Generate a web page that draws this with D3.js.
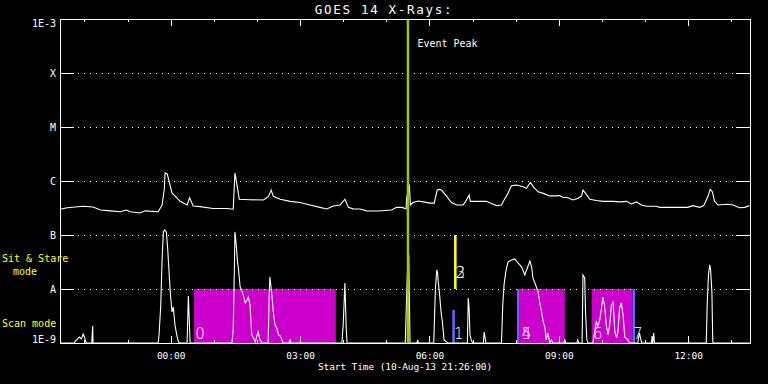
<!DOCTYPE html>
<html>
<head>
<meta charset="utf-8">
<script src="https://cdn.jsdelivr.net/npm/d3@7"></script>
<style>
  body { margin: 0; background: #000; }
  svg { display: block; background: #000; }
</style>
</head>
<body>
<script>
// times are hours relative to 00:00 UT on 11-Aug-2013, flux in W/m^2

// GOES long channel (1-8 A)
const longChannel = [
  [-2.56, 3.0e-7], [-2.40, 3.2e-7], [-2.03, 3.4e-7], [-1.80, 3.3e-7], [-1.63, 2.9e-7],
  [-1.40, 2.8e-7], [-1.17, 2.7e-7], [-1.03, 2.9e-7], [-0.94, 2.7e-7], [-0.71, 2.55e-7],
  [-0.59, 2.8e-7], [-0.29, 2.7e-7], [-0.20, 3.6e-7], [-0.15, 6.8e-7], [-0.13, 1.41e-6],
  [-0.08, 1.35e-6], [0.03, 6.0e-7], [0.22, 4.2e-7], [0.38, 3.6e-7], [0.44, 4.9e-7],
  [0.52, 3.44e-7], [0.68, 3.35e-7], [0.98, 3.1e-7], [1.30, 3.1e-7], [1.45, 3.0e-7],
  [1.49, 1.4e-6], [1.53, 9.2e-7], [1.59, 4.6e-7], [1.84, 4.5e-7], [2.15, 4.45e-7],
  [2.27, 5.2e-7], [2.33, 6.8e-7], [2.38, 5.2e-7], [2.54, 4.6e-7], [2.77, 4.2e-7],
  [3.00, 4.0e-7], [3.23, 3.6e-7], [3.46, 3.25e-7], [3.62, 3.03e-7], [3.77, 3.44e-7],
  [3.93, 3.6e-7], [4.04, 4.6e-7], [4.12, 3.25e-7], [4.23, 3.05e-7], [4.39, 3.03e-7],
  [4.54, 2.8e-7], [4.81, 2.78e-7], [5.12, 2.9e-7], [5.24, 3.25e-7], [5.36, 3.25e-7],
  [5.46, 3.05e-7], [5.47, 4.8e-7], [5.53, 8.7e-7], [5.56, 3.6e-7], [5.62, 4.0e-7],
  [5.74, 4.27e-7], [5.86, 4.1e-7], [6.01, 3.9e-7], [6.11, 3.9e-7], [6.18, 6.8e-7],
  [6.23, 7.0e-7], [6.28, 6.8e-7], [6.40, 5.2e-7], [6.51, 4.0e-7], [6.63, 3.6e-7],
  [6.78, 3.6e-7], [6.84, 4.2e-7], [6.92, 5.5e-7], [6.95, 4.2e-7], [7.32, 4.2e-7],
  [7.48, 3.7e-7], [7.56, 3.5e-7], [7.67, 3.6e-7], [7.73, 4.45e-7], [7.82, 5.9e-7],
  [7.90, 8.2e-7], [8.02, 8.4e-7], [8.17, 7.8e-7], [8.25, 7.3e-7], [8.34, 9.4e-7],
  [8.42, 7.6e-7], [8.52, 6.3e-7], [8.64, 5.9e-7], [8.79, 5.3e-7], [8.95, 5.3e-7],
  [9.02, 5.4e-7], [9.09, 5.0e-7], [9.21, 4.9e-7], [9.33, 4.45e-7], [9.45, 4.8e-7],
  [9.53, 5.35e-7], [9.56, 6.8e-7], [9.62, 5.9e-7], [9.72, 4.6e-7], [9.87, 4.35e-7],
  [10.03, 4.2e-7], [10.26, 4.2e-7], [10.41, 4.1e-7], [10.57, 4.2e-7], [10.68, 3.75e-7],
  [10.80, 4.1e-7], [10.91, 3.6e-7], [11.03, 3.4e-7], [11.26, 3.4e-7], [11.34, 3.25e-7],
  [11.99, 3.25e-7], [12.11, 3.5e-7], [12.27, 3.25e-7], [12.36, 3.5e-7], [12.46, 5.2e-7],
  [12.51, 7.0e-7], [12.56, 6.3e-7], [12.61, 4.2e-7], [12.69, 3.6e-7], [12.92, 3.7e-7],
  [13.04, 3.6e-7], [13.19, 3.2e-7], [13.31, 3.25e-7], [13.42, 3.5e-7]
];

// GOES short channel (0.5-4 A), sits on the 1E-9 floor most of the time
const shortChannel = [
  [-2.56, 1e-9], [-2.24, 1e-9], [-2.21, 1.08e-9], [-2.16, 1.19e-9], [-2.12, 1.29e-9],
  [-2.07, 1.19e-9], [-2.03, 1.47e-9], [-2.00, 1.29e-9], [-1.98, 1.14e-9], [-1.96, 1e-9],
  [-1.83, 1e-9], [-1.81, 2.07e-9], [-1.80, 1e-9],
  [-0.29, 1e-9], [-0.27, 1.41e-9], [-0.23, 5.1e-9], [-0.20, 3.4e-8], [-0.17, 1.14e-7],
  [-0.14, 1.24e-7], [-0.10, 1.14e-7], [-0.07, 5.7e-8], [-0.05, 3.0e-8], [-0.01, 8.8e-9],
  [0.03, 3.75e-9], [0.06, 4.64e-9], [0.10, 2.15e-9], [0.14, 1.41e-9], [0.18, 1.04e-9],
  [0.22, 1e-9], [0.38, 1e-9], [0.41, 7.4e-9], [0.44, 1.74e-9], [0.45, 1e-9],
  [1.42, 1e-9], [1.45, 1.74e-9], [1.48, 3.4e-8], [1.49, 1.14e-7], [1.52, 6.5e-8],
  [1.55, 3.16e-8], [1.57, 2.45e-8], [1.61, 1.09e-8], [1.67, 8.4e-9], [1.73, 5.5e-9],
  [1.77, 6.25e-9], [1.80, 7.1e-9], [1.84, 5.06e-9], [1.88, 1.41e-9], [1.92, 1.24e-9],
  [1.96, 1.04e-9], [2.00, 1.35e-9], [2.03, 1.6e-9], [2.07, 1.14e-9], [2.12, 1e-9],
  [2.26, 1e-9], [2.28, 6.25e-9], [2.30, 1.67e-8], [2.34, 8.8e-9], [2.38, 3.75e-9],
  [2.42, 2.15e-9], [2.46, 1.9e-9], [2.50, 1.41e-9], [2.54, 1.35e-9], [2.58, 1.14e-9],
  [2.61, 1e-9], [2.74, 1e-9], [2.77, 1.14e-9], [2.79, 1e-9],
  [3.97, 1e-9], [4.00, 2.15e-9], [4.04, 1.29e-8], [4.07, 1.9e-9], [4.09, 1e-9],
  [5.44, 1e-9], [5.47, 7.1e-9], [5.50, 3.16e-8], [5.52, 4.3e-8], [5.55, 1e-9],
  [5.71, 1e-9], [5.73, 1.14e-9], [5.74, 1e-9],
  [6.10, 1e-9], [6.13, 6.25e-9], [6.14, 1.04e-8], [6.17, 2.25e-8], [6.19, 1.98e-8],
  [6.20, 1.47e-8], [6.23, 8.8e-9], [6.27, 3.75e-9], [6.30, 2.45e-9], [6.34, 1.14e-9],
  [6.40, 1.04e-9], [6.43, 1e-9],
  [6.88, 1e-9], [6.90, 6.8e-9], [6.92, 4.45e-9], [6.94, 1.41e-9], [6.97, 1.14e-9],
  [7.00, 1e-9], [7.25, 1e-9], [7.27, 1.6e-9], [7.31, 1e-9],
  [7.67, 1e-9], [7.70, 5.06e-9], [7.73, 1.19e-8], [7.77, 2.07e-8], [7.82, 3.16e-8],
  [7.89, 3.4e-8], [7.98, 3.6e-8], [8.06, 3.0e-8], [8.14, 2.55e-8], [8.21, 1.82e-8],
  [8.27, 2.45e-8], [8.33, 3.3e-8], [8.37, 2.55e-8], [8.40, 1.6e-8], [8.48, 1.09e-8],
  [8.52, 8.8e-9], [8.56, 5.5e-9], [8.60, 3.75e-9], [8.64, 2.45e-9], [8.68, 1.9e-9],
  [8.71, 1.14e-9], [8.75, 1.53e-9], [8.79, 1e-9], [8.83, 1.14e-9], [8.86, 1e-9],
  [9.12, 1e-9], [9.14, 1.14e-9], [9.16, 1e-9], [9.42, 1e-9], [9.44, 1.14e-9], [9.46, 1e-9],
  [9.54, 1e-9], [9.56, 1.82e-8], [9.60, 1.6e-8], [9.62, 3.75e-9], [9.65, 1.14e-9],
  [9.68, 1e-9],
  [9.79, 1e-9], [9.87, 2.45e-9], [9.91, 2.07e-9], [9.95, 2.67e-9], [9.99, 4.45e-9],
  [10.02, 7.1e-9], [10.06, 5.06e-9], [10.10, 2.15e-9], [10.14, 1.41e-9], [10.18, 2.15e-9],
  [10.22, 5.06e-9], [10.26, 5.7e-9], [10.30, 1.6e-9], [10.34, 1.24e-9], [10.37, 1.6e-9],
  [10.41, 4.45e-9], [10.45, 5.5e-9], [10.49, 3.3e-9], [10.53, 1.29e-9], [10.60, 1.14e-9],
  [10.64, 1e-9],
  [10.83, 1e-9], [10.87, 1.53e-9], [10.92, 1e-9], [11.15, 1e-9], [11.16, 1.35e-9],
  [11.18, 1e-9], [11.20, 1.53e-9], [11.22, 1e-9],
  [12.42, 1e-9], [12.44, 5.06e-9], [12.47, 1.82e-8], [12.50, 2.8e-8], [12.52, 2.25e-8],
  [12.55, 8.8e-9], [12.57, 1.04e-9], [12.59, 1e-9], [13.42, 1e-9]
];

// observation blocks
const scanBlocks = [[0.54, 3.83], [8.09, 9.14], [9.76, 10.71]];     // magenta, scan mode
const scanStarts = [[6.53, 6.59, 4.1e-9], [8.03, 8.09, 1e-8], [10.71, 10.77, 1e-8]]; // blue
const stareBlocks = [[6.57, 6.63]];                                 // yellow, sit & stare

const obsLabels = ['0', '1', '2', '3', '4', '5', '6', '7'];
const obsTimes = [0.57, 6.57, 6.61, 6.61, 8.14, 8.14, 9.79, 10.72];
const obsModes = ['scan', 'scan', 'stare', 'stare', 'scan', 'scan', 'scan', 'scan'];

const eventPeak = 5.49;

const yTicks = [1e-9, 1e-8, 1e-7, 1e-6, 1e-5, 1e-4, 1e-3];
const yTickLabels = ['1E-9', 'A', 'B', 'C', 'M', 'X', '1E-3'];

const midnight = Date.UTC(2013, 7, 11);
const startTime = new Date(Date.UTC(2013, 7, 10, 21, 26));
const endTime = new Date(Date.UTC(2013, 7, 11, 13, 26));
const toDate = (h) => new Date(midnight + h * 3600e3);

const W = 768, H = 384;
const plotLeft = 60, plotRight = 750, plotTop = 19, plotBottom = 343;
const MONO = '"DejaVu Sans Mono", monospace';

const svg = d3.select('body').append('svg')
  .attr('width', W)
  .attr('height', H)
  .attr('font-family', MONO)
  .attr('fill', '#fff');

const x = d3.scaleUtc().domain([startTime, endTime]).range([plotLeft, plotRight]);
const y = d3.scaleLog().domain([1e-9, 1e-3]).range([plotBottom, plotTop]).clamp(true);

// observation blocks first, so curves lie on top
svg.append('g').selectAll('rect')
  .data(scanBlocks)
  .join('rect')
  .attr('x', (d) => x(toDate(d[0])))
  .attr('width', (d) => x(toDate(d[1])) - x(toDate(d[0])))
  .attr('y', y(1e-8))
  .attr('height', y(1e-9) - y(1e-8))
  .attr('fill', '#cc00cc');

svg.append('g').selectAll('rect')
  .data(scanStarts)
  .join('rect')
  .attr('x', (d) => x(toDate(d[0])))
  .attr('width', (d) => x(toDate(d[1])) - x(toDate(d[0])))
  .attr('y', (d) => y(d[2]))
  .attr('height', (d) => y(1e-9) - y(d[2]))
  .attr('fill', '#6464ff');

svg.append('g').selectAll('rect')
  .data(stareBlocks)
  .join('rect')
  .attr('x', (d) => x(toDate(d[0])))
  .attr('width', (d) => x(toDate(d[1])) - x(toDate(d[0])))
  .attr('y', y(1e-7))
  .attr('height', y(1e-8) - y(1e-7))
  .attr('fill', '#ffff00');

// dotted GOES class lines
const inner = yTicks.slice(1, -1);
svg.append('g').selectAll('line')
  .data(inner)
  .join('line')
  .attr('x1', plotLeft + 18)
  .attr('x2', plotRight - 14)
  .attr('y1', (d) => Math.round(y(d)) + 0.5)
  .attr('y2', (d) => Math.round(y(d)) + 0.5)
  .attr('stroke', '#fff')
  .attr('stroke-dasharray', '1,5')
  .attr('shape-rendering', 'crispEdges');

const line = d3.line()
  .x((d) => x(toDate(d[0])))
  .y((d) => y(d[1]));

[longChannel, shortChannel].forEach((series) => {
  svg.append('path')
    .datum(series)
    .attr('d', line)
    .attr('fill', 'none')
    .attr('stroke', '#fff')
    .attr('stroke-width', 1.1);
});

// event peak marker
svg.append('line')
  .attr('x1', x(toDate(eventPeak)) + 0.5)
  .attr('x2', x(toDate(eventPeak)) + 0.5)
  .attr('y1', plotTop)
  .attr('y2', plotBottom)
  .attr('stroke', '#99cc00')
  .attr('stroke-width', 2.5);

svg.append('text')
  .attr('x', x(toDate(eventPeak)) + 10)
  .attr('y', 47)
  .attr('font-size', 10)
  .text('Event Peak');

// observation numbers
svg.append('g')
  .attr('font-family', '"DejaVu Sans", sans-serif')
  .attr('font-weight', 200)
  .attr('font-size', 15)
  .selectAll('text')
  .data(obsLabels)
  .join('text')
  .attr('x', (d, i) => x(toDate(obsTimes[i])))
  .attr('y', (d, i) => obsModes[i] === 'scan' ? y(1e-9) - 4 : y(1e-8) - 11)
  .text((d) => d);

// frame
svg.append('rect')
  .attr('x', plotLeft + 0.5)
  .attr('y', plotTop + 0.5)
  .attr('width', plotRight - plotLeft)
  .attr('height', plotBottom - plotTop)
  .attr('fill', 'none')
  .attr('stroke', '#fff')
  .attr('shape-rendering', 'crispEdges');

const styleAxis = (g) => {
  g.select('.domain').remove();
  g.selectAll('line').attr('stroke', '#fff').attr('shape-rendering', 'crispEdges');
  g.attr('font-family', MONO);
  g.selectAll('text').attr('fill', '#fff');
};

// time axes: hourly minor ticks, 3-hourly labelled ticks
svg.append('g')
  .attr('transform', `translate(0,${plotBottom})`)
  .call(d3.axisBottom(x).ticks(d3.utcHour.every(1)).tickSize(-3).tickFormat(''))
  .call(styleAxis);

svg.append('g')
  .attr('transform', `translate(0,${plotBottom})`)
  .call(d3.axisBottom(x).ticks(d3.utcHour.every(3)).tickSize(-7).tickPadding(9)
    .tickFormat(d3.utcFormat('%H:%M')))
  .call(styleAxis)
  .call((g) => g.attr('font-size', 9.5));

svg.append('g')
  .attr('transform', `translate(0,${plotTop})`)
  .call(d3.axisTop(x).ticks(d3.utcHour.every(1)).tickSize(-3).tickFormat(''))
  .call(styleAxis);

svg.append('g')
  .attr('transform', `translate(0,${plotTop})`)
  .call(d3.axisTop(x).ticks(d3.utcHour.every(3)).tickSize(-7).tickFormat(''))
  .call(styleAxis);

// flux axes
svg.append('g')
  .attr('transform', `translate(${plotLeft},0)`)
  .call(d3.axisLeft(y).tickValues(yTicks).tickSize(-14).tickPadding(4)
    .tickFormat((d, i) => yTickLabels[i]))
  .call(styleAxis)
  .call((g) => {
    g.attr('font-size', 10);
    g.selectAll('.tick').filter((d) => d === 1e-3).select('text').attr('dy', '0.75em');
    g.selectAll('.tick').filter((d) => d === 1e-9).select('text').attr('dy', '-0.05em');
  });

svg.append('g')
  .attr('transform', `translate(${plotRight},0)`)
  .call(d3.axisRight(y).tickValues(inner).tickSize(-14).tickFormat(''))
  .call(styleAxis);

// titles
svg.append('text')
  .attr('x', 384)
  .attr('y', 14)
  .attr('text-anchor', 'middle')
  .attr('font-size', 12.5)
  .attr('letter-spacing', 1.7)
  .text('GOES 14 X-Rays:');

svg.append('text')
  .attr('x', 405)
  .attr('y', 370)
  .attr('text-anchor', 'middle')
  .attr('font-size', 9.5)
  .attr('letter-spacing', -0.1)
  .text('Start Time (10-Aug-13 21:26:00)');

const modeLabels = svg.append('g').attr('font-size', 10).attr('fill', '#ffff00');
modeLabels.append('text').attr('x', 2).attr('y', 262).text('Sit & Stare');
modeLabels.append('text').attr('x', 13).attr('y', 275).text('mode');
modeLabels.append('text').attr('x', 2).attr('y', 327).text('Scan mode');
</script>
</body>
</html>
